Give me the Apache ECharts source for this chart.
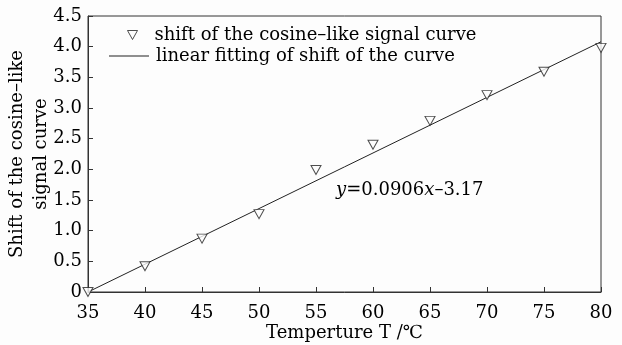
<!DOCTYPE html>
<html><head><meta charset="utf-8">
<script src="https://cdn.jsdelivr.net/npm/echarts@6/dist/echarts.min.js"></script>
<style>html,body{margin:0;padding:0;background:#fdfdfd}#c{width:622px;height:345px}</style>
</head><body><div id="c"></div>
<script>
var temps = [35, 40, 45, 50, 55, 60, 65, 70, 75, 80];
var shifts = [0.0, 0.42, 0.87, 1.27, 1.99, 2.40, 2.79, 3.21, 3.59, 3.98];
var fitX = [35, 80];
var fitY = [0.0, 4.08];
var seriesNames = ['shift of the cosine\u2013like signal curve', 'linear fitting of shift of the curve'];
var FONT = 'DejaVu Serif';
var FS = 18;
var TRI = 'path://M0,0 L10,0 L5,9 Z';
var chart = echarts.init(document.getElementById('c'), null, {renderer: 'canvas'});
chart.setOption({
  backgroundColor: '#fdfdfd',
  animation: false,
  grid: {left: 88, right: 21, top: 16, bottom: 53, show: true, borderColor: '#333', borderWidth: 1,
         containLabel: false, outerBoundsMode: 'none'},
  legend: [{
    show: true, left: 122, top: 21, itemWidth: 10, itemHeight: 9, itemGap: 0,
    textStyle: {fontFamily: FONT, fontSize: FS, color: '#000', padding: [0, 0, 0, 12]},
    data: [{name: seriesNames[0], icon: TRI, itemStyle: {color: '#fdfdfd', borderColor: '#222', borderWidth: 1}}]
  }, {
    show: true, left: 104, top: 42, itemWidth: 40, itemHeight: 1, itemGap: 0,
    textStyle: {fontFamily: FONT, fontSize: FS, color: '#000', padding: [0, 0, 0, 2]},
    data: [{name: seriesNames[1], icon: 'rect', itemStyle: {color: '#222'}}]
  }],
  xAxis: {
    type: 'value', min: 35, max: 80, interval: 5,
    name: 'Temperture T /\u2103', nameLocation: 'middle', nameGap: 32, nameMoveOverlap: false,
    nameTextStyle: {fontFamily: FONT, fontSize: FS, color: '#000'},
    axisLine: {lineStyle: {color: '#333'}},
    axisTick: {inside: true, length: 5, lineStyle: {color: '#333'}},
    axisLabel: {fontFamily: FONT, fontSize: FS, color: '#000', margin: 12},
    splitLine: {show: false}
  },
  yAxis: {
    type: 'value', min: 0, max: 4.5, interval: 0.5,
    name: 'Shift of the cosine\u2013like\nsignal curve', nameLocation: 'middle', nameGap: 35, nameMoveOverlap: false,
    nameTextStyle: {fontFamily: FONT, fontSize: FS, color: '#000', lineHeight: 24},
    axisLine: {lineStyle: {color: '#333'}},
    axisTick: {inside: true, length: 5, lineStyle: {color: '#333'}},
    axisLabel: {fontFamily: FONT, fontSize: FS, color: '#000', margin: 6,
      formatter: function (v) { return v === 0 ? '0' : v.toFixed(1); }},
    splitLine: {show: false}
  },
  series: [
    {
      name: seriesNames[0], type: 'scatter',
      data: temps.map(function (t, i) { return [t, shifts[i]]; }),
      symbol: 'triangle', symbolRotate: 180, symbolSize: [10, 9],
      itemStyle: {color: '#fdfdfd', borderColor: '#222', borderWidth: 1},
      z: 3
    },
    {
      name: seriesNames[1], type: 'line',
      data: fitX.map(function (x, i) { return [x, fitY[i]]; }),
      symbol: 'none', lineStyle: {color: '#222', width: 1}, itemStyle: {color: '#222'},
      z: 2
    }
  ],
  graphic: [{
    type: 'text', left: 336, top: 181,
    style: {
      text: '{i|y}=0.0906{i|x}\u20133.17',
      font: FS + 'px "' + FONT + '"', fill: '#000',
      rich: {i: {fontStyle: 'italic', fontFamily: FONT, fontSize: FS, fill: '#000'}}
    }
  }]
});
</script></body></html>
